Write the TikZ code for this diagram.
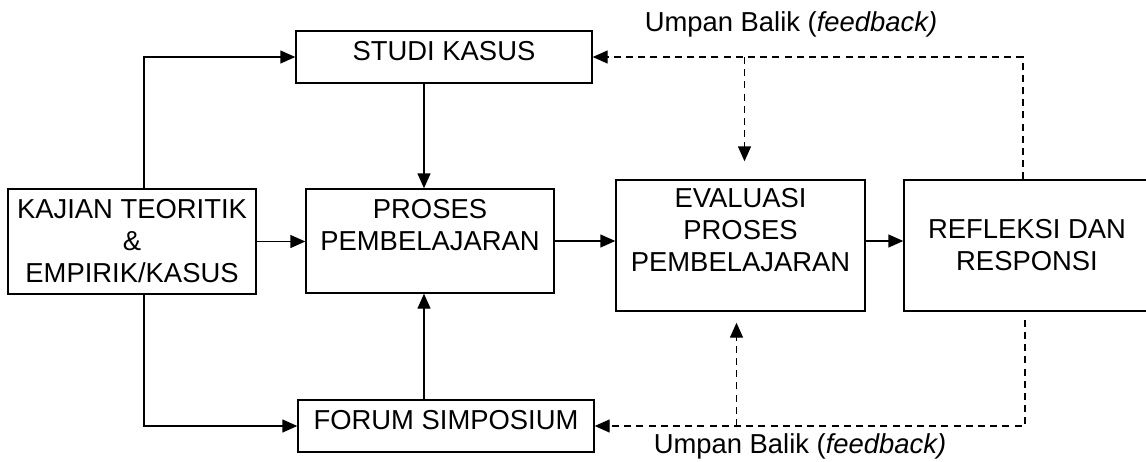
\documentclass[tikz,border=0pt]{standalone}
\usepackage{fontspec}
\setmainfont{Liberation Sans}
\usetikzlibrary{arrows.meta}

\begin{document}
\begin{tikzpicture}[x=0.5pt, y=-0.5pt]

    % Define styles
    \tikzset{
        flow box/.style={draw=black, line width=0.7pt, align=center, inner sep=0pt,
            font=\fontsize{13.7}{16}\selectfont},
        flow arrow/.style={line width=0.7pt, -{Triangle[length=7.5pt, width=6.5pt]}},
        feedback line/.style={line width=0.7pt, dash pattern=on 3.5pt off 2.6pt},
        feedback label/.style={font=\fontsize{13.7}{16}\selectfont}
    }

    % Picture frame (the right box runs off the edge)
    \useasboundingbox (0,0) rectangle (1146,461);
    \clip (0,0) rectangle (1146,461);

    % Boxes
    \node[flow box, minimum width=124pt, minimum height=52.5pt] (kajian) at (132,241.5)
        {KAJIAN TEORITIK\\\&\\EMPIRIK/KASUS};
    \node[flow box, minimum width=148pt, minimum height=26pt, text depth=6pt] (studi) at (444,57)
        {STUDI KASUS};
    \node[flow box, minimum width=124pt, minimum height=52pt] (proses) at (430,241)
        {PROSES\\PEMBELAJARAN\\\mbox{}};
    \node[flow box, minimum width=148pt, minimum height=26pt, text depth=6pt] (forum) at (446,426)
        {FORUM SIMPOSIUM};
    \node[flow box, minimum width=124.5pt, minimum height=65.5pt] (eval) at (740.5,245.5)
        {EVALUASI\\PROSES\\PEMBELAJARAN\\\mbox{}};
    \node[flow box, minimum width=123pt, minimum height=65.5pt] (refleksi) at (1027,245.5)
        {REFLEKSI DAN\\RESPONSI};

    % Helper points for the connectors
    \coordinate (kajian-n) at ([xshift=6pt]kajian.north);
    \coordinate (kajian-s) at ([xshift=6pt]kajian.south);
    \coordinate (proses-n) at ([xshift=-3pt]proses.north);
    \coordinate (proses-s) at ([xshift=-3pt]proses.south);
    \coordinate (fb-top-start) at ([xshift=-2pt]refleksi.north);
    \coordinate (fb-top-corner) at (fb-top-start |- studi.east);
    \coordinate (fb-top-split) at ([xshift=2pt]eval.north |- studi.east);
    \coordinate (fb-top-end) at ([xshift=2pt, yshift=9pt]eval.north);
    \coordinate (fb-bot-start) at ([xshift=-1pt, yshift=-4pt]refleksi.south);
    \coordinate (fb-bot-corner) at (fb-bot-start |- forum.east);
    \coordinate (fb-bot-split) at ([xshift=-2pt]eval.south |- forum.east);
    \coordinate (fb-bot-end) at ([xshift=-2pt, yshift=-5.5pt]eval.south);

    % Main flow
    \draw[flow arrow] (kajian-n) |- (studi.west);
    \draw[flow arrow] (kajian-s) |- (forum.west);
    \draw[flow arrow] (kajian.east) -- (kajian.east -| proses.west);
    \draw[flow arrow] (proses-n |- studi.south) -- (proses-n);
    \draw[flow arrow] (proses-s |- forum.north) -- (proses-s);
    \draw[flow arrow] (proses.east) -- (proses.east -| eval.west);
    \draw[flow arrow] (proses.east -| eval.east) -- (proses.east -| refleksi.west);

    % Feedback loops (dashed)
    \draw[feedback line, flow arrow] (fb-top-start) -- (fb-top-corner) -- (studi.east);
    \draw[feedback line, flow arrow] (fb-top-split) -- (fb-top-end);
    \draw[feedback line, flow arrow] (fb-bot-start) -- (fb-bot-corner) -- (forum.east);
    \draw[feedback line, flow arrow] (fb-bot-split) -- (fb-bot-end);

    % Feedback labels
    \node[feedback label] (fb-top-label) at (791,24) {Umpan Balik (\textit{feedback)}};
    \node[feedback label] (fb-bot-label) at (800,446) {Umpan Balik (\textit{feedback)}};

\end{tikzpicture}
\end{document}
